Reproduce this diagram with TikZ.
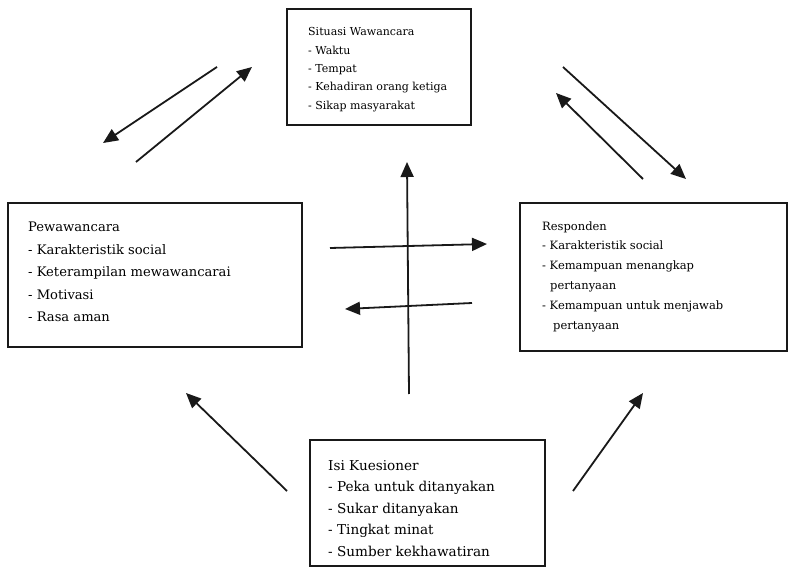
\documentclass[tikz,border=0pt]{standalone}
\usepackage{fontspec}
\setmainfont{DejaVu Serif}
\usetikzlibrary{arrows.meta}
\tikzset{
  boxframe/.style={draw=black!90, line width=1.5pt},
  txt/.style={anchor=base west, inner sep=0pt},
  arr/.style={line width=1.8pt, draw=black!90, -{Triangle[length=15pt,width=13pt]}},
}
\begin{document}
\begin{tikzpicture}[x=1pt,y=-1pt]
\useasboundingbox (0,0) rectangle (788,569);
% boxes
\draw[boxframe] (287,9) rectangle (471,125) coordinate (topbox);
\draw[boxframe] (8,203) rectangle (302,347) coordinate (leftbox);
\draw[boxframe] (520,203) rectangle (787,351) coordinate (rightbox);
\draw[boxframe] (310,440) rectangle (545,566) coordinate (botbox);
% top texts
\begin{scope}[every node/.style={txt, font=\fontsize{11}{13}\selectfont}]
\node (ta) at (308,36) {Situasi Wawancara};
\node (tb) at (308,54.5) {- Waktu};
\node (tc) at (308,73) {- Tempat};
\node (td) at (308,91) {- Kehadiran orang ketiga};
\node (te) at (308,109.5) {- Sikap masyarakat};
\end{scope}
\begin{scope}[every node/.style={txt, font=\fontsize{13.1}{15}\selectfont}]
\node (la) at (28,232) {Pewawancara};
\node (lb) at (28,254.5) {- Karakteristik social};
\node (lc) at (28,277) {- Keterampilan mewawancarai};
\node (ld) at (28,299.5) {- Motivasi};
\node (le) at (28,322) {- Rasa aman};
\end{scope}
\begin{scope}[every node/.style={txt, font=\fontsize{11.5}{13}\selectfont}]
\node (ra) at (542,231) {Responden};
\node (rb) at (542,250) {- Karakteristik social};
\node (rc) at (542,270) {- Kemampuan menangkap};
\node (rd) at (550,290) {pertanyaan};
\node (re) at (542,310) {- Kemampuan untuk menjawab};
\node (rf) at (553,330) {pertanyaan};
\end{scope}
\begin{scope}[every node/.style={txt, font=\fontsize{13.6}{16}\selectfont}]
\node (ba) at (328,471) {Isi Kuesioner};
\node (bb) at (328,492) {- Peka untuk ditanyakan};
\node (bc) at (328,513.5) {- Sukar ditanyakan};
\node (bd) at (328,534.5) {- Tingkat minat};
\node (be) at (328,556) {- Sumber kekhawatiran};
\end{scope}
% arrow endpoints
\coordinate (a1s) at (217,67);  \coordinate (a1e) at (103,143);
\coordinate (a2s) at (136,162); \coordinate (a2e) at (252,67);
\coordinate (a3s) at (563,67);  \coordinate (a3e) at (686,179);
\coordinate (a4s) at (643,179); \coordinate (a4e) at (556,93);
\coordinate (a5s) at (409,394); \coordinate (a5e) at (407,162);
\coordinate (a6s) at (330,248); \coordinate (a6e) at (487,244);
\coordinate (a7s) at (472,303); \coordinate (a7e) at (345,309);
\coordinate (a8s) at (287,491); \coordinate (a8e) at (186,393);
\coordinate (a9s) at (573,491); \coordinate (a9e) at (643,393);
\foreach \i in {1,...,9} { \draw[arr] (a\i s) -- (a\i e); }
\end{tikzpicture}
\end{document}
